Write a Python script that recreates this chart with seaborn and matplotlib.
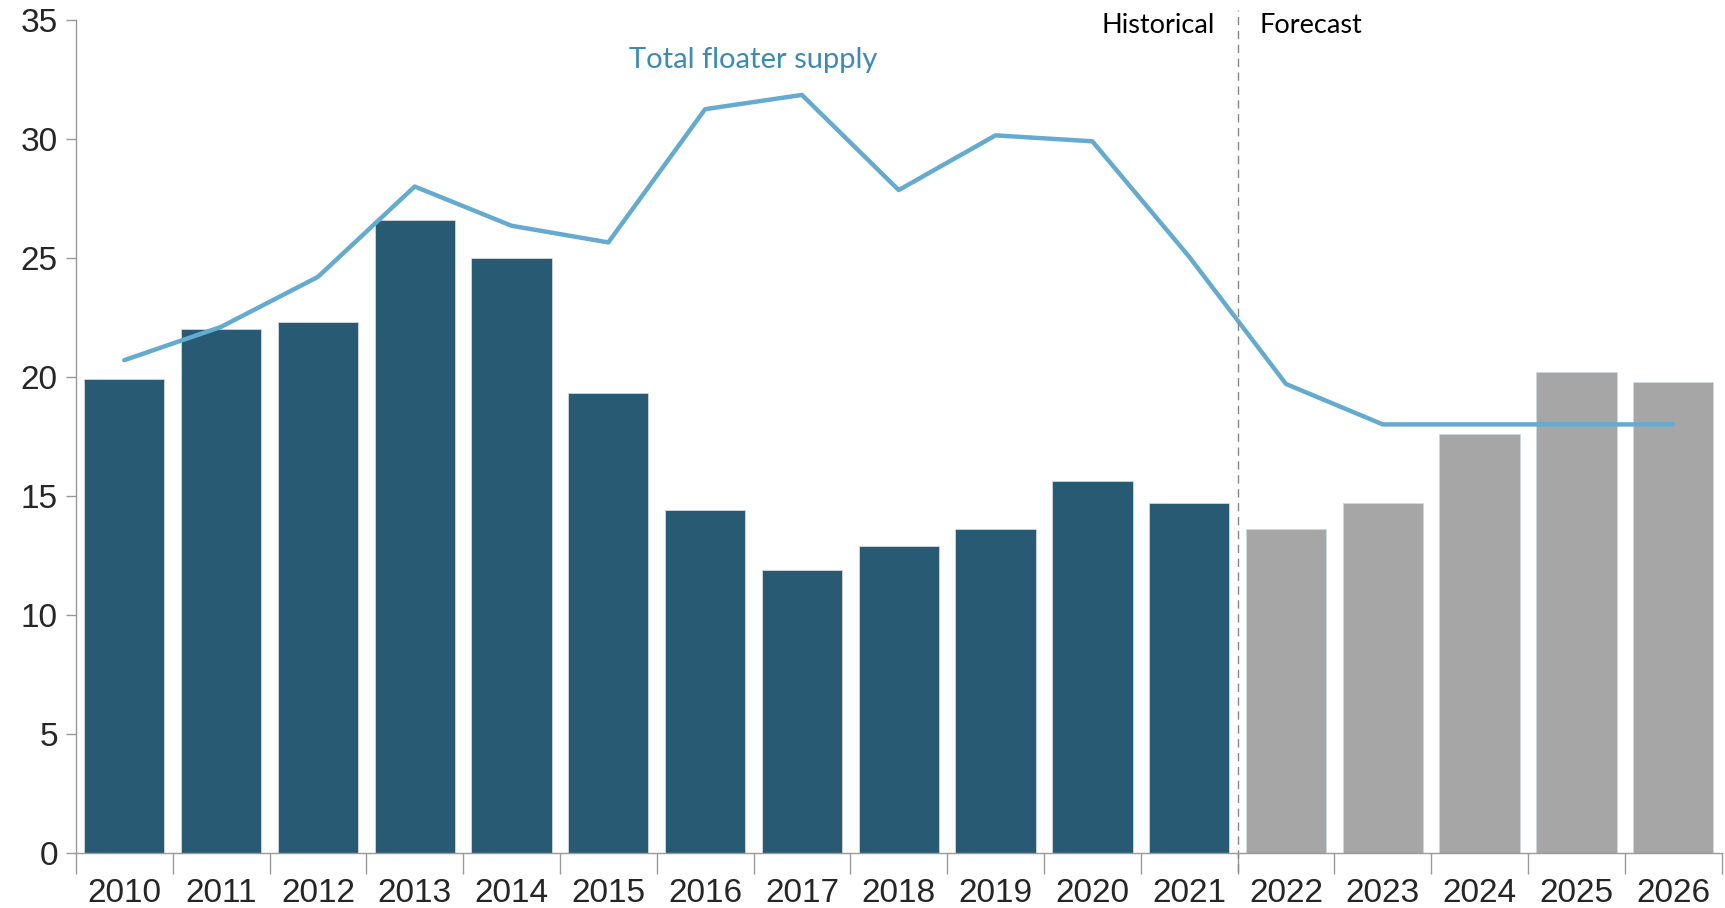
import numpy as np
import pandas as pd
import matplotlib
matplotlib.use("Agg")
import matplotlib.pyplot as plt
import seaborn as sns

# chart values
years = [str(y) for y in range(2010, 2027)]
deliveries = [19.9, 22.0, 22.3, 26.6, 25.0, 19.3, 14.4, 11.9, 12.9, 13.6, 15.6, 14.7,
              13.6, 14.7, 17.6, 20.2, 19.8]
total_supply = [20.7, 22.1, 24.2, 28.0, 26.35, 25.65, 31.25, 31.85, 27.85, 30.15, 29.9, 25.05,
                19.7, 18.0, 18.0, 18.0, 18.0]
n_hist = 12  # 2010-2021 historical, rest forecast

dark = "#285a73"
grey = "#a6a6a6"
line_col = "#65abcf"

df = pd.DataFrame({"year": years, "value": deliveries})
df["period"] = ["Historical"] * n_hist + ["Forecast"] * (len(years) - n_hist)

sns.set_style("white")
plt.rcParams["font.family"] = ["Liberation Sans Narrow", "Liberation Sans", "DejaVu Sans"]

fig = plt.figure(figsize=(17.25, 9.08), dpi=100)
ax = fig.add_axes([0.044, 0.061, 0.954, 0.917])

sns.barplot(data=df, x="year", y="value", hue="year",
            palette=[dark] * n_hist + [grey] * (len(years) - n_hist),
            width=0.83, legend=False, saturation=1, ax=ax,
            edgecolor="#d0d8dc", linewidth=0.6)

sns.lineplot(x=np.arange(len(years)), y=total_supply, color=line_col, linewidth=3.2,
             ax=ax)

ax.set_xlim(-0.5, len(years) - 0.5)
ax.set_ylim(0, 35)
ax.set_yticks(range(0, 36, 5))
ax.set_xlabel("")
ax.set_ylabel("")

# category boundary ticks on the x axis
ax.set_xticks(np.arange(-0.5, len(years), 1.0), minor=True)
ax.tick_params(axis="x", which="major", bottom=True, length=0, labelsize=24, pad=18)
ax.tick_params(axis="x", which="minor", bottom=True, length=15, color="#999999", width=1)
ax.tick_params(axis="y", which="major", left=True, length=7, color="#999999", width=1,
               labelsize=24, pad=6)

sns.despine(ax=ax)
for s in ["left", "bottom"]:
    ax.spines[s].set_color("#999999")
    ax.spines[s].set_linewidth(1)

# historical / forecast divider
ax.plot([n_hist - 0.5, n_hist - 0.5], [-0.8, 35.4], color="#888888", linestyle=(0, (6, 4)),
        linewidth=1, clip_on=False)

txt_font = ["Lato", "DejaVu Sans"]
ax.text(n_hist - 0.73, 34.75, "Historical", ha="right", va="center", fontsize=19.5,
        family=txt_font, color="black")
ax.text(n_hist - 0.27, 34.75, "Forecast", ha="left", va="center", fontsize=19.5,
        family=txt_font, color="black")
ax.text(6.5, 33.3, "Total floater supply", ha="center", va="center", fontsize=21,
        family=txt_font, color="#3a8bb8")

fig.savefig("out.png", dpi=100)
